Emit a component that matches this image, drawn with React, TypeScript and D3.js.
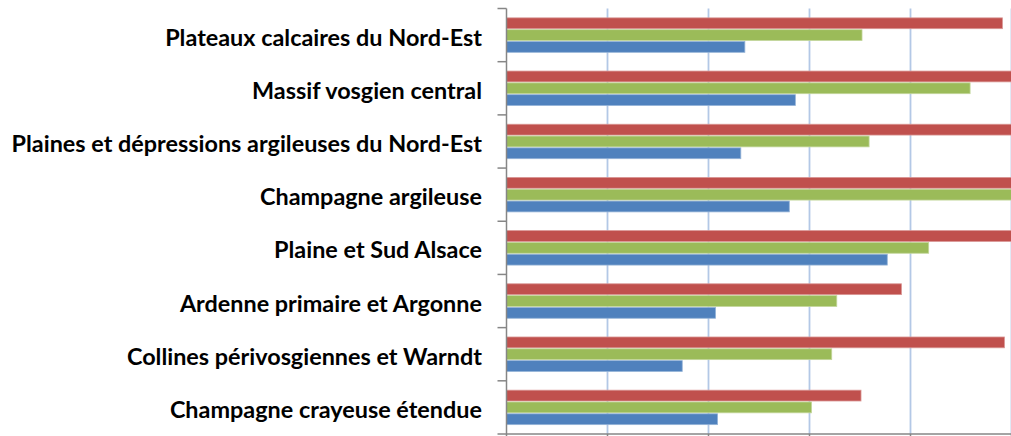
import React from "react";
import * as d3 from "d3";

const categories = [
  "Plateaux calcaires du Nord-Est",
  "Massif vosgien central",
  "Plaines et dépressions argileuses du Nord-Est",
  "Champagne argileuse",
  "Plaine et Sud Alsace",
  "Ardenne primaire et Argonne",
  "Collines périvosgiennes et Warndt",
  "Champagne crayeuse étendue",
];
const seriesRed = [4.91, 5.4, 5.6, 5.8, 5.3, 3.91, 4.93, 3.51];
const seriesGreen = [3.52, 4.59, 3.59, 5.2, 4.18, 3.27, 3.22, 3.02];
const seriesBlue = [2.36, 2.86, 2.32, 2.8, 3.77, 2.07, 1.74, 2.09];
const gridTicks = [0, 1, 2, 3, 4, 5];

const series = [
  { key: "red", values: seriesRed, fill: "#C0504D", stroke: "#D99694" },
  { key: "green", values: seriesGreen, fill: "#9BBB59", stroke: "#C3D69B" },
  { key: "blue", values: seriesBlue, fill: "#4F81BD", stroke: "#95B3D7" },
];

export default function App() {
  const W = 1011, H = 436;
  const left = 506.5, right = 1011.5, top = 8.5, bottom = 434;
  const x = d3.scaleLinear().domain([0, 5]).range([left, right]);
  const y = d3.scaleBand<string>().domain(categories).range([top, bottom]).padding(0);
  const bw = y.bandwidth();
  const groupH = (bw * 3) / 4.5;
  const sub = d3
    .scaleBand<string>()
    .domain(series.map((s) => s.key))
    .range([(bw - groupH) / 2, (bw + groupH) / 2])
    .padding(0);

  return (
    <svg
      width={W}
      height={H}
      style={{ position: "absolute", left: 0, top: 0, background: "#fff" }}
    >
      <defs>
        <clipPath id="plot">
          <rect x={left} y={0} width={W - left} height={H} />
        </clipPath>
      </defs>
      {gridTicks.slice(1).map((t) => (
        <line
          key={t}
          x1={x(t)}
          x2={x(t)}
          y1={top}
          y2={bottom}
          stroke="#B3C8E6"
          strokeWidth={1.8}
        />
      ))}
      <g clipPath="url(#plot)">
        {categories.map((c, i) => (
          <g key={c} transform={`translate(0,${y(c)})`}>
            {series.map((s) => (
              <rect
                key={s.key}
                x={x(0)}
                y={sub(s.key)! + 0.5}
                width={x(s.values[i]) - x(0)}
                height={sub.bandwidth() - 1}
                fill={s.fill}
                stroke={s.stroke}
                strokeWidth={0.8}
              />
            ))}
          </g>
        ))}
      </g>
      {/* vertical axis */}
      <line x1={left} x2={left} y1={top} y2={bottom} stroke="#868686" strokeWidth={1.5} />
      {categories.concat(["__end"]).map((c, i) => {
        const yy = top + i * bw;
        return (
          <line key={"t" + i} x1={left - 9} x2={left} y1={yy} y2={yy} stroke="#868686" strokeWidth={1.5} />
        );
      })}
      {/* horizontal axis */}
      <line x1={left} x2={W} y1={bottom} y2={bottom} stroke="#868686" strokeWidth={1.5} />
      {gridTicks.map((t) => (
        <line key={"b" + t} x1={x(t)} x2={x(t)} y1={bottom} y2={bottom + 5} stroke="#868686" strokeWidth={1.5} />
      ))}
      {categories.map((c) => (
        <text
          key={"l" + c}
          x={482}
          y={y(c)! + bw / 2 + 1.5}
          textAnchor="end"
          dominantBaseline="central"
          fontFamily="Lato, 'Open Sans', sans-serif"
          fontWeight={700}
          fontSize={23.4}
          fill="#000"
        >
          {c}
        </text>
      ))}
    </svg>
  );
}
